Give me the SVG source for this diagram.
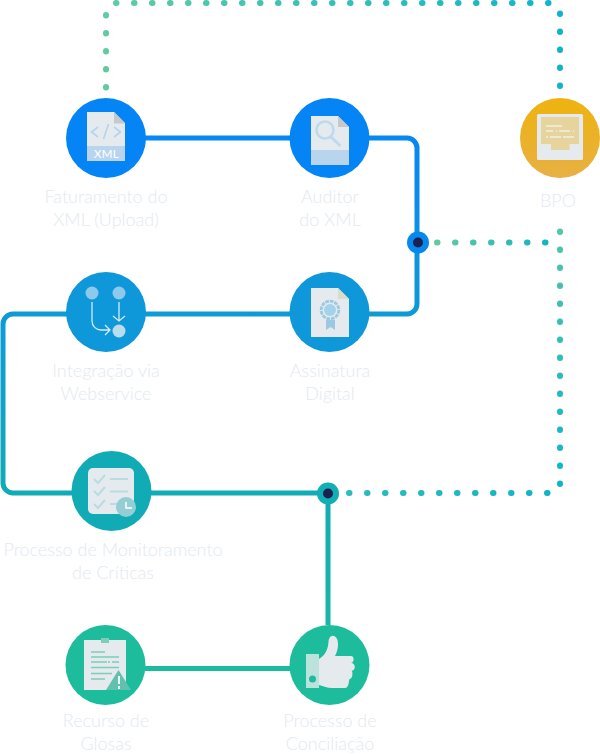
<svg xmlns="http://www.w3.org/2000/svg" width="600" height="754" viewBox="0 0 600 754">
<defs>
<linearGradient id="lineG" gradientUnits="userSpaceOnUse" x1="0" y1="100" x2="0" y2="700"><stop offset="0" stop-color="#0583f8"/><stop offset="0.35" stop-color="#0d9ad8"/><stop offset="0.65" stop-color="#11abb6"/><stop offset="1" stop-color="#1dbd9a"/></linearGradient>
<linearGradient id="dotA" gradientUnits="userSpaceOnUse" x1="105" y1="0" x2="560" y2="0"><stop offset="0" stop-color="#5fcca0"/><stop offset="1" stop-color="#10b4cb"/></linearGradient>
<linearGradient id="dotB" gradientUnits="userSpaceOnUse" x1="0" y1="225" x2="0" y2="490"><stop offset="0" stop-color="#52c6a8"/><stop offset="1" stop-color="#10b4c6"/></linearGradient>
<linearGradient id="dotC" gradientUnits="userSpaceOnUse" x1="436" y1="0" x2="550" y2="0"><stop offset="0" stop-color="#5fcca0"/><stop offset="1" stop-color="#10b4c4"/></linearGradient>
<linearGradient id="dotD" gradientUnits="userSpaceOnUse" x1="345" y1="0" x2="550" y2="0"><stop offset="0" stop-color="#2cbdbd"/><stop offset="1" stop-color="#10b4c8"/></linearGradient>
<linearGradient id="bpoG" x1="0" y1="0" x2="0" y2="1"><stop offset="0" stop-color="#eeb30e"/><stop offset="1" stop-color="#e8b044"/></linearGradient>
</defs>
<style>
.lbl{font-family:"Lato","Open Sans",sans-serif;font-weight:300;font-size:18px;fill:#e3e9ef;text-anchor:middle}
.ln{fill:none;stroke:url(#lineG);stroke-width:5;stroke-linejoin:round}
.dt{fill:none;stroke-width:6;stroke-linecap:round;stroke-dasharray:0.5 17.5}
.pg{fill:#e5eaee}
.fd{fill:#c8c8c8}
</style>
<g id="connectors">
<path class="ln" d="M145 138H407a10 10 0 0 1 10 10V304a10 10 0 0 1-10 10H13a10 10 0 0 0-10 10V483a10 10 0 0 0 10 10H328V625"/>
<path class="ln" d="M145 668.500H290"/>
<path class="dt" stroke="#5fcca0" d="M106 15V88"/>
<path class="dt" stroke="url(#dotA)" d="M116 3H549"/>
<path class="dt" stroke="#10b4c8" d="M560 13.500V86"/>
<path class="dt" stroke="url(#dotC)" d="M437 242.500H546"/>
<path class="dt" stroke="url(#dotB)" d="M560 231.500V484"/>
<path class="dt" stroke="url(#dotD)" d="M349 493H548"/>
<circle cx="418" cy="242.500" r="11" fill="#0788ee"/><circle cx="418" cy="242.500" r="5" fill="#1b2150"/>
<circle cx="328" cy="493.500" r="11" fill="#12aeb6"/><circle cx="328" cy="493.500" r="5" fill="#1b2150"/>
</g>
<g id="node-faturamento">
<circle cx="106" cy="138" r="40" fill="#0585f5"/>
<path class="pg" d="M87 112H114L125 123V161H87Z"/><path class="fd" d="M114 112L125 123.500H114Z"/>
<rect x="87" y="146" width="38" height="15" fill="#b9d5ee"/>
<path d="M98 127L91.500 132L98 137M114 127L120.500 132L114 137M108.500 124L103.500 139" fill="none" stroke="#b3d3f0" stroke-width="1.600"/>
<text x="106.500" y="158" font-family="Lato,sans-serif" font-size="11.500" font-weight="400" fill="#fff" text-anchor="middle" letter-spacing=".4">XML</text>
<text class="lbl" x="106" y="203">Faturamento do</text><text class="lbl" x="106" y="226">XML (Upload)</text>
</g>
<g id="node-auditor">
<circle cx="329.500" cy="138" r="40" fill="#0585f5"/>
<path class="pg" d="M311 116H338L349 127V165H311Z"/><path class="fd" d="M338 116L349 127H338Z"/>
<rect x="311" y="150" width="38" height="15" fill="#b9d5ee"/>
<circle cx="325" cy="130" r="8.500" fill="none" stroke="#bcd9f0" stroke-width="2.500"/><path d="M331 137L339.500 145" stroke="#bcd9f0" stroke-width="3" stroke-linecap="round"/>
<text class="lbl" x="330" y="203">Auditor</text><text class="lbl" x="330" y="226">do XML</text>
</g>
<g id="node-bpo">
<circle cx="560" cy="138" r="40" fill="url(#bpoG)"/>
<rect x="537" y="114" width="46" height="46" rx="1.500" fill="#e5eaee"/>
<path d="M541 117H579V144H569.500V150H551V144H541Z" fill="#e6d49c"/>
<path d="M546 126H562M546 131H553M556 131H557M559 131H570M573 131H574M546 137H548M550 137H561M563 137H574" stroke="#f1efe6" stroke-width="1.500"/>
<text class="lbl" x="558" y="207">BPO</text>
</g>
<g id="node-integracao">
<circle cx="106" cy="312" r="40" fill="#0e98da"/>
<circle cx="92" cy="293" r="6.500" fill="#8dc9ea"/><circle cx="119" cy="293" r="6.500" fill="#8dc9ea"/><circle cx="119" cy="331" r="6.500" fill="#b9dcee"/>
<path d="M92 302V321a9 9 0 0 0 9 9H109M105 325L110 330L105 335M119 302V320M113 316L119 321L125 316" fill="none" stroke="#d5ebf6" stroke-width="1.300"/>
<text class="lbl" x="106" y="377">Integração via</text><text class="lbl" x="106" y="400">Webservice</text>
</g>
<g id="node-assinatura">
<circle cx="329.500" cy="312" r="40" fill="#0e98da"/>
<path class="pg" d="M311 288H338L349 299V337H311Z"/><path d="M338 288L349 299H338Z" fill="#dcdccb"/>
<path d="M326 320H335V330L330.500 327L326 330Z" fill="#9cc9e2"/>
<circle cx="330" cy="310" r="8.500" fill="none" stroke="#9cc9e2" stroke-width="3.500" stroke-dasharray="3.500 .9"/>
<circle cx="330" cy="310" r="7.500" fill="#e5eaee"/>
<circle cx="330" cy="310" r="6" fill="#a5d2ea"/>
<text class="lbl" x="330" y="377">Assinatura</text><text class="lbl" x="330" y="400">Digital</text>
</g>
<g id="node-monitoramento">
<circle cx="111.500" cy="491" r="40" fill="#11abb6"/>
<rect x="88" y="468" width="46" height="46" rx="5" fill="#e5eaee"/>
<path d="M94 479L98 483L105 475M94 491L98 495L105 487M94 504L98 508L105 500" fill="none" stroke="#b7dce1" stroke-width="2"/>
<path d="M110 479H128M110 491.500H128M110 504H120" stroke="#b7dce1" stroke-width="2"/>
<circle cx="126" cy="507" r="10" fill="#92ced3"/>
<path d="M126 502V508H132" fill="none" stroke="#fff" stroke-width="1.500"/>
<text class="lbl" x="113" y="556">Processo de Monitoramento</text><text class="lbl" x="113" y="579">de Críticas</text>
</g>
<g id="node-recurso">
<circle cx="105.500" cy="665" r="40" fill="#1dbc9c"/>
<rect x="84" y="640" width="42" height="50" fill="#e5eaee"/>
<rect x="101" y="638" width="8" height="5" fill="#7ccdb9"/>
<path d="M91 652H105M91 657H119M91 662H107M108 662H110M112 662H119M91 667.500H119M91 673.500H112M91 679H105" stroke="#7ccdb9" stroke-width="1.600"/>
<path d="M118.500 670L131 690H106Z" fill="#62c1ae"/>
<path d="M119 676V684M119 686V689" stroke="#fff" stroke-width="1.800"/>
<text class="lbl" x="106" y="727">Recurso de</text><text class="lbl" x="106" y="750">Glosas</text>
</g>
<g id="node-conciliacao">
<circle cx="329.500" cy="665" r="40" fill="#1dbc9c"/>
<rect x="306" y="654" width="13" height="34" fill="#bbe3dc"/>
<circle cx="312.500" cy="679" r="3.500" fill="#1dbc9c"/>
<path class="pg" d="M319 659C326 655 328 648 328.500 642C329 633 338 634 338 644C338 650 336 654 335 656H351C354.500 656 354.500 662.700 351 662.700C356 663 356 670.700 351.500 670.700C353 671 353 679 349.500 679C349 680 349 688 345 688H332C327 688 324 686 319 685Z"/>
<text class="lbl" x="330" y="727">Processo de</text><text class="lbl" x="330" y="750">Conciliação</text>
</g>
</svg>
